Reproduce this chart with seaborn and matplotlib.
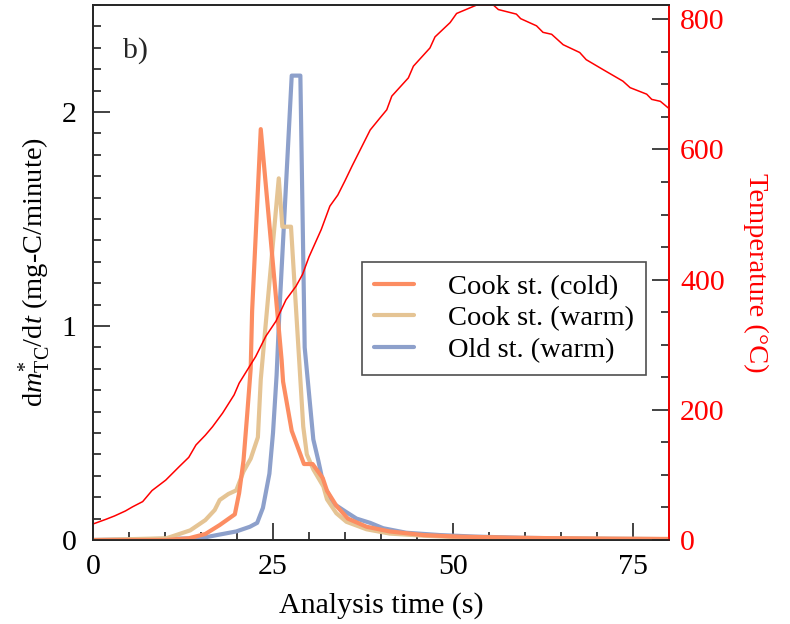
import numpy as np
import pandas as pd
import matplotlib
matplotlib.use("Agg")
import matplotlib.pyplot as plt
import seaborn as sns
from matplotlib.ticker import MultipleLocator

# ---------------- data ----------------
t_cold = [0, 10, 13.3, 15.6, 17.6, 19.7, 20.3, 20.9, 21.4, 21.9, 22.1, 23.3, 26.2, 26.4,
          27.6, 29.3, 30.5, 31.9, 32.5, 33.8, 35.4, 38.0, 41.2, 45.9, 50.5, 58.0, 65, 72, 80]
y_cold = [0, 0, 0.008, 0.028, 0.07, 0.12, 0.22, 0.37, 0.58, 0.80, 1.07, 1.92, 0.84, 0.74,
          0.51, 0.355, 0.355, 0.29, 0.23, 0.16, 0.10, 0.062, 0.04, 0.023, 0.016, 0.011, 0.008, 0.006, 0.005]

t_warm = [0, 10.2, 13.5, 15.6, 16.9, 17.6, 18.8, 19.9, 20.9, 21.9, 22.9, 23.3, 25.8, 26.3,
          27.5, 29.2, 29.7, 30.6, 32.0, 32.5, 33.8, 35.2, 38.0, 41.2, 45.9, 50, 55, 60, 70, 80]
y_warm = [0, 0.008, 0.045, 0.093, 0.14, 0.187, 0.215, 0.232, 0.32, 0.38, 0.48, 0.75, 1.69, 1.464,
          1.464, 0.53, 0.40, 0.33, 0.25, 0.19, 0.125, 0.085, 0.05, 0.03, 0.02, 0.014, 0.01, 0.008, 0.006, 0.004]

t_old = [0, 14.9, 17.2, 19.9, 21.8, 22.8, 23.6, 24.5, 25.0, 25.5, 25.9, 27.6, 28.8, 29.4,
         30.6, 31.3, 32.0, 33.4, 35.2, 36.6, 38.5, 40.3, 43.5, 48.2, 53, 60, 70, 80]
y_old = [0, 0.008, 0.023, 0.04, 0.062, 0.08, 0.15, 0.31, 0.5, 0.77, 1.075, 2.17, 2.17, 0.9,
         0.47, 0.37, 0.26, 0.17, 0.13, 0.10, 0.08, 0.055, 0.034, 0.023, 0.016, 0.01, 0.006, 0.004]

t_temp = [0, 1.8, 3.0, 4.5, 5.5, 6.9, 8.2, 10.1, 12.0, 13.3, 14.3, 15.6, 16.6, 18.0, 19.6, 20.3,
          21.7, 22.6, 24.0, 25.4, 26.8, 28.2, 29.1, 30.0, 31.7, 32.9, 34, 35, 36, 37, 38.5, 39.9,
          40.8, 41.5, 43.8, 44.5, 46.8, 47.5, 49.6, 50.5, 53.3, 55.6, 56.3, 58.8, 59.4, 61.6, 62.5,
          63.7, 65.3, 67.6, 68.5, 70.8, 73.6, 74.6, 76.9, 77.6, 78.8, 80.1]
T_temp = [24.6, 31.8, 37, 44.6, 51, 59, 76, 92, 113, 127, 146, 161, 174, 195, 223, 241,
          266, 282, 313, 336, 369, 390, 408, 435, 477, 513, 530, 552, 575, 597, 630, 649,
          661, 682, 710, 728, 756, 773, 795, 809, 822, 822, 815, 808, 801, 790, 780,
          777, 761, 749, 738, 723, 705, 695, 685, 677, 674, 662]

labels = ["Cook st. (cold)", "Cook st. (warm)", "Old st. (warm)"]
colors = ["#fc8d62", "#e5c494", "#8da0cb"]
x_ticks = [0, 25, 50, 75]
y_ticks = [0, 1, 2]
T_ticks = [0, 200, 400, 600, 800]

# ---------------- style ----------------
sns.set_style("ticks")
plt.rcParams["font.family"] = ["Liberation Serif", "DejaVu Serif"]
plt.rcParams["mathtext.fontset"] = "custom"
plt.rcParams["mathtext.rm"] = "Liberation Serif"
plt.rcParams["mathtext.it"] = "Liberation Serif:italic"
plt.rcParams["axes.linewidth"] = 1.3

FS = 21.5

fig = plt.figure(figsize=(7.9, 6.24), dpi=100)
ax = fig.add_axes([93 / 790, 1 - 540 / 624, 576 / 790, 535 / 624])

series = [(t_cold, y_cold), (t_warm, y_warm), (t_old, y_old)]
zs = [3.2, 3.1, 3.0]
for (tt, yy), lab, col, z in zip(series, labels, colors, zs):
    sns.lineplot(x=tt, y=yy, ax=ax, color=col, lw=3, label=lab, zorder=z, sort=False)

ax.set_xlim(0, 80)
ax.set_ylim(0, 2.5)
ax.set_xticks(x_ticks)
ax.set_yticks(y_ticks)
ax.xaxis.set_minor_locator(MultipleLocator(5))
ax.yaxis.set_minor_locator(MultipleLocator(0.1))
ax.tick_params(which="both", direction="in", labelsize=FS, width=1.2, color="#222222",
               labelcolor="black")
ax.tick_params(which="major", length=12)
ax.tick_params(which="minor", length=6)
ax.tick_params(axis="x", pad=10)
ax.tick_params(axis="y", pad=12)
ax.set_xlabel("Analysis time (s)", fontsize=FS, labelpad=9, color="black")
ax.set_ylabel(r"d$\mathit{m}^{*}_{\mathrm{TC}}$/d$\mathit{t}$ (mg-C/minute)", fontsize=20.5,
              labelpad=6, color="black")
for s in ["left", "bottom", "top"]:
    ax.spines[s].set_color("#333333")

ax.text(0.052, 0.915, "b)", transform=ax.transAxes, fontsize=FS, va="center", ha="left")

leg = ax.legend(loc="upper left", bbox_to_anchor=(0.467, 0.52), borderaxespad=0,
                fontsize=20.5, frameon=True, fancybox=False, edgecolor="#222222",
                handlelength=1.4, handletextpad=1.2, labelspacing=0.2, borderpad=0.42)
leg.get_frame().set_linewidth(1.2)
for txt in leg.get_texts():
    txt.set_color("black")

ax2 = ax.twinx()
sns.lineplot(x=t_temp, y=T_temp, ax=ax2, color="red", lw=1.1, sort=False)
ax2.set_ylim(0, 822)
ax2.set_xlim(0, 80)
ax2.set_yticks(T_ticks)
ax2.yaxis.set_minor_locator(MultipleLocator(50))
ax2.tick_params(which="both", direction="in", labelsize=FS, labelcolor="red", width=1.2,
                color="#222222", pad=8)
ax2.tick_params(which="major", length=12)
ax2.tick_params(which="minor", length=6)
ax2.spines["right"].set_color("red")
ax2.spines["right"].set_linewidth(1.3)
ax2.set_ylabel("Temperature (°C)", color="red", fontsize=20.5, rotation=270, labelpad=31)
if ax2.legend_:
    ax2.legend_.remove()

fig.savefig("out.png", dpi=100)
